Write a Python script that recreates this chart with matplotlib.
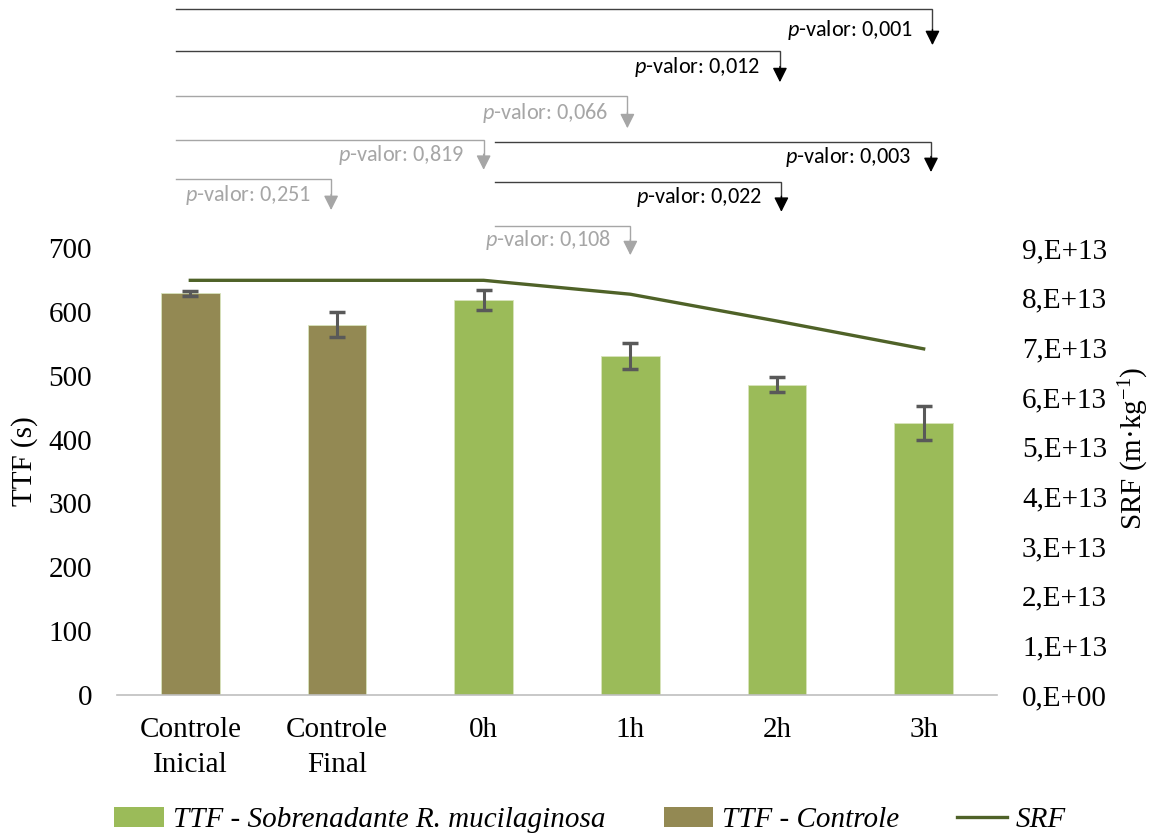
import matplotlib
matplotlib.use("Agg")
import matplotlib.pyplot as plt
from matplotlib.patches import Patch
from matplotlib.lines import Line2D
from matplotlib.ticker import FixedLocator, FuncFormatter

# ---- data ----
categories = ["Controle\nInicial", "Controle\nFinal", "0h", "1h", "2h", "3h"]
ttf_values = [629, 580, 619, 531, 486, 426]
ttf_errors = [4, 20, 16, 21, 12, 26]
is_control = [True, True, False, False, False, False]
srf_values = [8.35e13, 8.35e13, 8.35e13, 8.07e13, 7.53e13, 6.97e13]

# comparisons: (start category, end category, p-value text, significant)
comparisons_from_start = [
    (0, 5, "0,001", True),
    (0, 4, "0,012", True),
    (0, 3, "0,066", False),
    (0, 2, "0,819", False),
    (0, 1, "0,251", False),
]
comparisons_from_0h = [
    (2, 5, "0,003", True),
    (2, 4, "0,022", True),
    (2, 3, "0,108", False),
]

# ---- style ----
GREEN = "#9BBB59"
OLIVE = "#938953"
LINE = "#4F6228"
ERR = "#595959"
GRAY = "#A6A6A6"
SERIF = "Liberation Serif"
SANS = ["Carlito", "Liberation Sans"]
FS = 21

plt.rcParams["mathtext.fontset"] = "custom"
plt.rcParams["mathtext.it"] = "Carlito:italic"
plt.rcParams["mathtext.rm"] = "Carlito"

fig = plt.figure(figsize=(11.57, 8.36), dpi=100)
ax = fig.add_axes([0.1011, 0.1687, 0.7606, 0.5346])

x = list(range(len(categories)))
colors = [OLIVE if c else GREEN for c in is_control]
ax.bar(x, ttf_values, width=0.4, color=colors, edgecolor="#D8E4BC",
       linewidth=0.6, zorder=2)
ax.errorbar(x, ttf_values, yerr=ttf_errors, fmt="none", ecolor=ERR,
            elinewidth=2.2, capsize=5.5, capthick=2.5, zorder=3)

ax.set_xlim(-0.5, len(categories) - 0.5)
ax.set_ylim(0, 700)
ax.yaxis.set_major_locator(FixedLocator(range(0, 701, 100)))
ax.set_xticks(x)
ax.set_xticklabels(categories, fontfamily=SERIF, fontsize=FS, linespacing=1.42)
for lab in ax.get_yticklabels():
    lab.set_fontfamily(SERIF)
    lab.set_fontsize(FS)
ax.tick_params(axis="y", length=0, pad=18)
ax.tick_params(axis="x", length=0, pad=16)
for s in ["top", "left", "right"]:
    ax.spines[s].set_visible(False)
ax.spines["bottom"].set_color("#BFBFBF")
ax.spines["bottom"].set_linewidth(1.2)

ax2 = ax.twinx()
ax2.plot(x, srf_values, color=LINE, lw=2.4, zorder=4)
ax2.set_ylim(0, 9e13)
ax2.yaxis.set_major_locator(FixedLocator([i * 1e13 for i in range(10)]))


def srf_fmt(v, pos):
    n = int(round(v / 1e13))
    return "0,E+00" if n == 0 else f"{n},E+13"


ax2.yaxis.set_major_formatter(FuncFormatter(srf_fmt))
for lab in ax2.get_yticklabels():
    lab.set_fontfamily(SERIF)
    lab.set_fontsize(FS)
ax2.tick_params(axis="y", length=0, pad=18)
for s in ["top", "left", "right", "bottom"]:
    ax2.spines[s].set_visible(False)

# axis titles
fig.text(25 / 1157, 1 - 461 / 836, "TTF (s)", rotation=90, ha="center",
         va="center", fontfamily=SERIF, fontsize=FS)
fig.text(1134 / 1157, 1 - 448 / 836, "SRF (m·kg$^{\\mathregular{-1}}$)",
         rotation=90, ha="center", va="center", fontfamily=SERIF, fontsize=FS)

# ---- significance brackets above the plot ----
trans = ax.get_xaxis_transform()


def bracket(x0, x1, y_line, y_tip, text, dark):
    col_line = "#404040" if dark else GRAY
    col_head = "black" if dark else GRAY
    ax.plot([x0, x1, x1], [y_line, y_line, y_tip + 0.03], transform=trans,
            color=col_line, lw=1.0, clip_on=False, solid_joinstyle="miter")
    ax.annotate("", xy=(x1, y_tip), xytext=(x1, y_tip + 0.035),
                xycoords=trans, textcoords=trans,
                arrowprops=dict(arrowstyle="-|>", color=col_head, lw=1.0,
                                mutation_scale=22, shrinkA=0, shrinkB=0),
                annotation_clip=False)
    ax.annotate("$\\it{p}$-valor: " + text, xy=(x1, y_tip), xycoords=trans,
                xytext=(-14, 11), textcoords="offset points",
                ha="right", va="center", fontsize=16, fontfamily=SANS,
                color="black" if dark else GRAY, annotation_clip=False)


# vertical layout (axes fraction) and horizontal nudges (category units)
levels_a = [(1.535, 1.454), (1.441, 1.371), (1.340, 1.268), (1.242, 1.175), (1.154, 1.085)]
nudges_a = [0.06, 0.02, -0.02, 0.0, -0.04]
levels_b = [(1.237, 1.170), (1.148, 1.081), (1.049, 0.984)]
nudges_b = [0.05, 0.03, 0.0]

for (i0, i1, p, sig), (yl, yt), dx in zip(comparisons_from_start, levels_a, nudges_a):
    bracket(i0 - 0.10, i1 + dx, yl, yt, p, sig)
for (i0, i1, p, sig), (yl, yt), dx in zip(comparisons_from_0h, levels_b, nudges_b):
    bracket(i0 + 0.075, i1 + dx, yl, yt, p, sig)

# ---- legend ----
handles = [Patch(facecolor=GREEN), Patch(facecolor=OLIVE),
           Line2D([], [], color=LINE, lw=2.4)]
labels = ["TTF - Sobrenadante R. mucilaginosa", "TTF - Controle", "SRF"]
fig.legend(handles, labels, loc="center", bbox_to_anchor=(0.510, 0.019),
           ncol=3, frameon=False, handlelength=1.7, handleheight=0.7,
           handletextpad=0.3, columnspacing=2.0,
           prop=dict(family=SERIF, style="italic", size=FS))

fig.savefig("out.png", dpi=100)
